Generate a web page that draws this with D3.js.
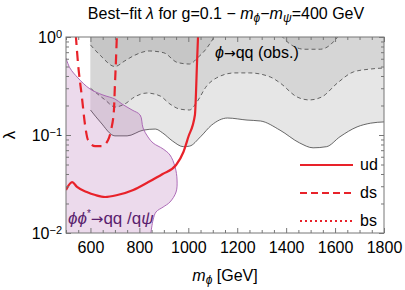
<!DOCTYPE html>
<html>
<head>
<meta charset="utf-8">
<script src="https://cdn.jsdelivr.net/npm/d3@7"></script>
<style>
  body { margin: 0; background: #fff; }
  svg { font-family: "Liberation Sans", Arial, sans-serif; }
</style>
</head>
<body>
<div id="chart"></div>
<script>
// observed phi -> qq exclusion, three contours (lambda boundary vs m_phi)
var lightM = [600, 640, 700, 750, 815, 865, 895, 935, 980, 1005, 1050, 1095, 1160, 1240, 1295, 1375, 1455, 1510, 1565, 1620, 1690, 1745, 1800];
var lightL = [0.18, 0.136, 0.098, 0.098, 0.112, 0.115, 0.105, 0.087, 0.076, 0.077, 0.096, 0.126, 0.149, 0.142, 0.139, 0.112, 0.083, 0.074, 0.076, 0.096, 0.121, 0.132, 0.136];
var medM = [600, 660, 700, 740, 780, 830, 885, 925, 965, 1005, 1035, 1075, 1115, 1190, 1250, 1335, 1375, 1445, 1495, 1545, 1610, 1675, 1745, 1800];
var medL = [0.30, 0.228, 0.193, 0.207, 0.244, 0.268, 0.25, 0.207, 0.184, 0.18, 0.217, 0.316, 0.382, 0.43, 0.43, 0.391, 0.34, 0.244, 0.228, 0.244, 0.34, 0.44, 0.471, 0.483];
var darkM = [600, 640, 700, 740, 780, 840, 900, 955, 1005, 1040, 1070, 1100, 1130, 1350, 1385, 1415, 1475, 1540, 1580, 1610, 1640, 1800];
var darkL = [0.83, 0.65, 0.5, 0.57, 0.65, 0.72, 0.69, 0.55, 0.53, 0.62, 0.74, 0.95, 1.3, 1.3, 1.0, 0.85, 0.75, 0.75, 0.83, 1.0, 1.3, 1.3];

// pair production region (closed contour)
var purpleM = [500, 516, 549, 598, 651, 700, 729, 770, 803, 815, 835, 856, 897, 925, 946, 954, 950, 925, 897, 868, 856, 847];
var purpleL = [0.61, 0.483, 0.382, 0.295, 0.256, 0.233, 0.207, 0.18, 0.16, 0.118, 0.0955, 0.0828, 0.072, 0.0625, 0.0471, 0.0347, 0.0262, 0.0207, 0.0184, 0.0164, 0.0136, 0.01];

// best-fit lambda curves
var udM = [500, 525, 545, 585, 620, 660, 710, 775, 830, 895, 950, 980, 1000, 1027, 1036, 1040];
var udL = [0.0275, 0.0331, 0.0295, 0.0262, 0.0244, 0.0233, 0.0244, 0.0275, 0.0324, 0.04, 0.0494, 0.0671, 0.0955, 0.16, 0.58, 1.05];
var dsM = [540, 549, 565, 578, 590, 619, 647, 672, 684, 696, 700, 704, 708];
var dsL = [1.05, 0.543, 0.244, 0.126, 0.089, 0.077, 0.077, 0.089, 0.112, 0.18, 0.324, 0.556, 1.05];

var legendNames = ["ud", "ds", "bs"];
var legendDash = [null, "7,4", "2,3"];

var xMajor = [600, 800, 1000, 1200, 1400, 1600, 1800];
var yMajor = [0.01, 0.1, 1];
var yExp = ["\u22122", "\u22121", "0"];

var width = 405, height = 290;
var pLeft = 66, pRight = 384, pTop = 37, pBottom = 233;

var svg = d3.select("#chart").append("svg")
    .attr("width", width)
    .attr("height", height);

var x = d3.scaleLinear().domain([500, 1800]).range([pLeft, pRight]);
var y = d3.scaleLog().domain([0.01, 1]).range([pBottom, pTop]);

svg.append("clipPath").attr("id", "clip")
    .append("rect")
    .attr("x", pLeft).attr("y", pTop)
    .attr("width", pRight - pLeft).attr("height", pBottom - pTop);

var plot = svg.append("g").attr("clip-path", "url(#clip)");

function zipped(ms, ls) {
    return ms.map(function (m, i) { return [m, ls[i]]; });
}

var band = d3.area()
    .x(function (d) { return x(d[0]); })
    .y0(pTop)
    .y1(function (d) { return y(d[1]); })
    .curve(d3.curveMonotoneX);
var edge = d3.line()
    .x(function (d) { return x(d[0]); })
    .y(function (d) { return y(d[1]); })
    .curve(d3.curveMonotoneX);

// grey bands, lightest first
var bands = [
    {data: zipped(lightM, lightL), fill: "#e6e6e6", dash: null},
    {data: zipped(medM, medL), fill: "#d6d6d6", dash: "4,3"},
    {data: zipped(darkM, darkL), fill: "#c6c6c6", dash: "4,3"}
];
bands.forEach(function (b) {
    plot.append("path").attr("d", band(b.data)).attr("fill", b.fill);
});
bands.forEach(function (b) {
    plot.append("path").attr("d", edge(b.data))
        .attr("fill", "none")
        .attr("stroke", "#444")
        .attr("stroke-width", 0.8)
        .attr("stroke-dasharray", b.dash);
});

// purple region
var contour = d3.line()
    .x(function (d) { return x(d[0]); })
    .y(function (d) { return y(d[1]); })
    .curve(d3.curveCatmullRom);
var pts = zipped(purpleM, purpleL);
plot.append("path")
    .attr("d", contour(pts) + "L" + x(500) + "," + y(0.01) + "Z")
    .attr("fill", "rgb(160,70,160)")
    .attr("fill-opacity", 0.2);
plot.append("path")
    .attr("d", contour(pts))
    .attr("fill", "none")
    .attr("stroke", "#a55db0")
    .attr("stroke-width", 0.9);

// red curves
plot.append("path").attr("d", edge(zipped(udM, udL)))
    .attr("fill", "none").attr("stroke", "#e8222a").attr("stroke-width", 2.2);
plot.append("path").attr("d", edge(zipped(dsM, dsL)))
    .attr("fill", "none").attr("stroke", "#e8222a").attr("stroke-width", 2.2)
    .attr("stroke-dasharray", "10,6");

// axes with inward ticks
var xMinor = d3.range(500, 1801, 50).filter(function (v) { return xMajor.indexOf(v) < 0; });
var yMinor = [];
[0.01, 0.1].forEach(function (d) {
    for (var k = 2; k <= 9; k++) yMinor.push(d * k);
});

function styleAxis(g) {
    g.select(".domain").remove();
    g.selectAll(".tick line").attr("stroke", "#777");
}

svg.append("g").attr("transform", "translate(0," + pBottom + ")")
    .call(d3.axisBottom(x).tickValues(xMajor).tickSize(-5).tickPadding(9).tickFormat(d3.format("d")))
    .call(styleAxis)
    .selectAll("text").attr("font-size", 16).attr("fill", "#000")
    .attr("font-family", "Liberation Sans, Arial, sans-serif");
svg.append("g").attr("transform", "translate(0," + pBottom + ")")
    .call(d3.axisBottom(x).tickValues(xMinor).tickSize(-3).tickFormat(""))
    .call(styleAxis);
svg.append("g").attr("transform", "translate(0," + pTop + ")")
    .call(d3.axisTop(x).tickValues(xMajor).tickSize(-5).tickFormat(""))
    .call(styleAxis);
svg.append("g").attr("transform", "translate(0," + pTop + ")")
    .call(d3.axisTop(x).tickValues(xMinor).tickSize(-3).tickFormat(""))
    .call(styleAxis);

var yl = svg.append("g").attr("transform", "translate(" + pLeft + ",0)")
    .call(d3.axisLeft(y).tickValues(yMajor).tickSize(-5).tickPadding(4).tickFormat(function () { return ""; }))
    .call(styleAxis);
yl.selectAll(".tick text").each(function (d, i) {
    var t = d3.select(this)
        .attr("font-size", 16).attr("fill", "#000")
        .attr("font-family", "Liberation Sans, Arial, sans-serif");
    t.append("tspan").text("10");
    t.append("tspan").attr("dy", "-0.45em").attr("font-size", 11).text(yExp[i]);
});
svg.append("g").attr("transform", "translate(" + pLeft + ",0)")
    .call(d3.axisLeft(y).tickValues(yMinor).tickSize(-3).tickFormat(""))
    .call(styleAxis);
svg.append("g").attr("transform", "translate(" + pRight + ",0)")
    .call(d3.axisRight(y).tickValues(yMajor).tickSize(-5).tickFormat(""))
    .call(styleAxis);
svg.append("g").attr("transform", "translate(" + pRight + ",0)")
    .call(d3.axisRight(y).tickValues(yMinor).tickSize(-3).tickFormat(""))
    .call(styleAxis);

svg.append("rect")
    .attr("x", pLeft).attr("y", pTop)
    .attr("width", pRight - pLeft).attr("height", pBottom - pTop)
    .attr("fill", "none").attr("stroke", "#777").attr("stroke-width", 1);

// labels
var title = svg.append("text")
    .attr("x", 226).attr("y", 19)
    .attr("text-anchor", "middle")
    .attr("font-size", 16);
title.append("tspan").text("Best\u2212fit ");
title.append("tspan").attr("font-style", "italic").text("\u03bb");
title.append("tspan").text(" for g=0.1 \u2212 ");
title.append("tspan").attr("font-style", "italic").text("m");
title.append("tspan").attr("font-style", "italic").attr("font-size", 12).attr("dy", 3).text("\u03d5");
title.append("tspan").attr("dy", -3).text("\u2212");
title.append("tspan").attr("font-style", "italic").text("m");
title.append("tspan").attr("font-style", "italic").attr("font-size", 12).attr("dy", 3).text("\u03c8");
title.append("tspan").attr("dy", -3).text("=400 GeV");

var xl = svg.append("text")
    .attr("x", 225).attr("y", 281)
    .attr("text-anchor", "middle")
    .attr("font-size", 16);
xl.append("tspan").attr("font-style", "italic").text("m");
xl.append("tspan").attr("font-style", "italic").attr("font-size", 12).attr("dy", 3).text("\u03d5");
xl.append("tspan").attr("dy", -3).text(" [GeV]");

svg.append("text")
    .attr("transform", "translate(15,135) rotate(-90)")
    .attr("text-anchor", "middle")
    .attr("font-size", 17)
    .text("\u03bb");

var obs = svg.append("text")
    .attr("x", 215).attr("y", 58)
    .attr("font-size", 16);
obs.append("tspan").attr("font-style", "italic").text("\u03d5");
obs.append("tspan").attr("font-family", "DejaVu Sans").attr("font-size", 14).text("\u2192");
obs.append("tspan").text("qq (obs.)");

var pp = svg.append("text")
    .attr("x", 68).attr("y", 224)
    .attr("font-size", 17)
    .attr("fill", "#5a1e6e");
pp.append("tspan").attr("font-style", "italic").text("\u03d5\u03d5");
pp.append("tspan").attr("font-size", 10).attr("dy", -7).text("*");
pp.append("tspan").attr("dy", 7).attr("font-family", "DejaVu Sans").attr("font-size", 15).text("\u2192");
pp.append("tspan").text("qq /q");
pp.append("tspan").attr("font-style", "italic").text("\u03c8");

// legend
var leg = svg.append("g");
legendNames.forEach(function (name, i) {
    var ly = 165 + i * 28;
    leg.append("line")
        .attr("x1", 300).attr("x2", 353)
        .attr("y1", ly).attr("y2", ly)
        .attr("stroke", "#e8222a").attr("stroke-width", 2.2)
        .attr("stroke-dasharray", legendDash[i]);
    leg.append("text")
        .attr("x", 360).attr("y", ly + 5)
        .attr("font-size", 16)
        .text(name);
});
</script>
</body>
</html>
